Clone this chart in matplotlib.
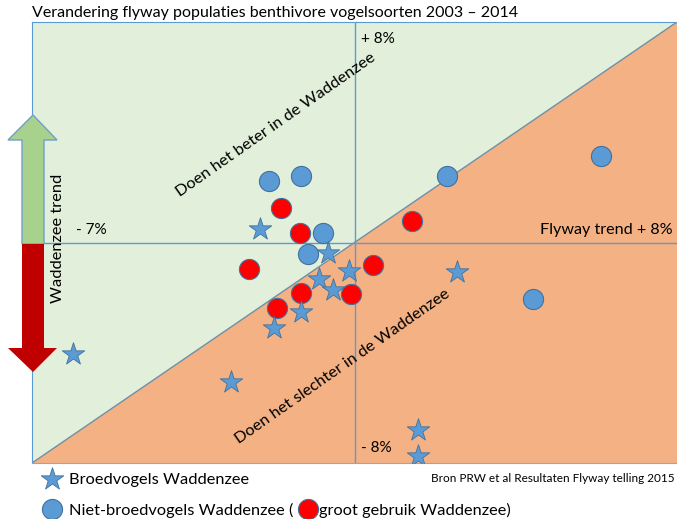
import matplotlib
matplotlib.use('Agg')
import matplotlib.pyplot as plt
from matplotlib.patches import Polygon

plt.rcParams['font.family'] = ['Lato', 'DejaVu Sans']

# flyway trend (x) vs Waddenzee trend (y), both in % over 2003-2014
breed_x = [-2.34, -0.66, -0.14, -0.88, -0.53, -1.33, -2.00, 2.54, -6.98, -3.06, 1.58, 1.58]
breed_y = [0.49, -0.38, -1.03, -1.32, -1.72, -2.52, -3.10, -1.07, -4.03, -5.06, -6.80, -7.75]

nonbreed_x = [-2.12, -1.33, -0.78, -1.15, 2.29, 6.12, 4.43]
nonbreed_y = [2.23, 2.41, 0.34, -0.42, 2.41, 3.14, -2.05]

heavy_x = [-1.82, -1.35, -2.62, -1.33, -1.92, -0.09, 0.46, 1.43]
heavy_y = [1.25, 0.34, -0.96, -1.83, -2.38, -1.87, -0.82, 0.78]

lim = 8
blue = '#5B9BD5'
edge = '#41719C'

W, H = 677, 519
fig = plt.figure(figsize=(W / 100, H / 100), dpi=100)
ax = fig.add_axes([32 / W, (H - 463) / H, 645 / W, 441 / H])
ax.set_xlim(-lim, lim)
ax.set_ylim(-lim, lim)

# better / worse halves
ax.add_patch(Polygon([(-lim, -lim), (-lim, lim), (lim, lim)], closed=True,
                     facecolor='#E2EFDA', edgecolor='none', zorder=0))
ax.add_patch(Polygon([(-lim, -lim), (lim, lim), (lim, -lim)], closed=True,
                     facecolor='#F4B183', edgecolor='none', zorder=0))
ax.plot([-lim, lim], [-lim, lim], color='#6F8FA8', lw=1, zorder=1)
ax.axhline(0, color=blue, lw=1, zorder=1)
ax.axvline(0, color=blue, lw=1, zorder=1)

ax.scatter(nonbreed_x, nonbreed_y, s=210, marker='o', color=blue,
           edgecolors=edge, linewidths=0.8, zorder=3)
ax.scatter(heavy_x, heavy_y, s=210, marker='o', color='#FF0000',
           edgecolors=edge, linewidths=0.8, zorder=3)
ax.scatter(breed_x, breed_y, s=290, marker='*', color=blue,
           edgecolors=edge, linewidths=0.6, zorder=4)

ax.set_xticks([])
ax.set_yticks([])
for side in ['left', 'top']:
    ax.spines[side].set_color(blue)
ax.spines['bottom'].set_color('#8FA9C0')
ax.spines['right'].set_visible(False)

ax.text(0.15, lim - 0.6, '+ 8%', fontsize=11, va='center', ha='left')
ax.text(0.15, -lim + 0.55, '- 8%', fontsize=11, va='center', ha='left')
ax.text(-lim + 1.1, 0.45, '- 7%', fontsize=11, va='center', ha='left')
ax.text(lim - 0.1, 0.45, 'Flyway trend + 8%', fontsize=11.6, va='center', ha='right')
ax.text(-1.95, 4.25, 'Doen het beter in de Waddenzee', fontsize=11.8,
        rotation=35, rotation_mode='anchor', ha='center', va='center')
ax.text(-0.3, -4.5, 'Doen het slechter in de Waddenzee', fontsize=11.8,
        rotation=35, rotation_mode='anchor', ha='center', va='center')

# overlay in pixel coordinates for arrow, title and legend
ov = fig.add_axes([0, 0, 1, 1], zorder=5)
ov.set_xlim(0, W)
ov.set_ylim(H, 0)
ov.axis('off')

ov.add_patch(Polygon([(22, 244), (22, 140), (8, 140), (33, 115), (57, 140),
                      (44, 140), (44, 244)], closed=True,
                     facecolor='#A9D18E', edgecolor='#6F9FC8', lw=1))
ov.add_patch(Polygon([(22, 244), (22, 348), (8, 348), (33, 372), (57, 348),
                      (44, 348), (44, 244)], closed=True,
                     facecolor='#C00000', edgecolor='none'))
ov.text(58, 238, 'Waddenzee trend', fontsize=11.8, rotation=90,
        ha='center', va='center')

ov.text(32, 13, 'Verandering flyway populaties benthivore vogelsoorten 2003 \u2013 2014',
        fontsize=11.5, ha='left', va='center')

ov.scatter([52], [479], s=290, marker='*', color=blue, edgecolors=edge, linewidths=0.6)
ov.text(69, 480, 'Broedvogels Waddenzee', fontsize=11.8, ha='left', va='center')
ov.scatter([52], [509], s=210, marker='o', color=blue, edgecolors=edge, linewidths=0.8)
ov.text(69, 510, 'Niet-broedvogels Waddenzee (', fontsize=11.8, ha='left', va='center')
ov.scatter([308], [509], s=210, marker='o', color='#FF0000', edgecolors=edge, linewidths=0.8)
ov.text(319, 510, 'groot gebruik Waddenzee)', fontsize=11.8, ha='left', va='center')
ov.text(675, 478, 'Bron PRW et al Resultaten Flyway telling 2015', fontsize=8.5,
        ha='right', va='center')

fig.savefig('out.png', dpi=100)
